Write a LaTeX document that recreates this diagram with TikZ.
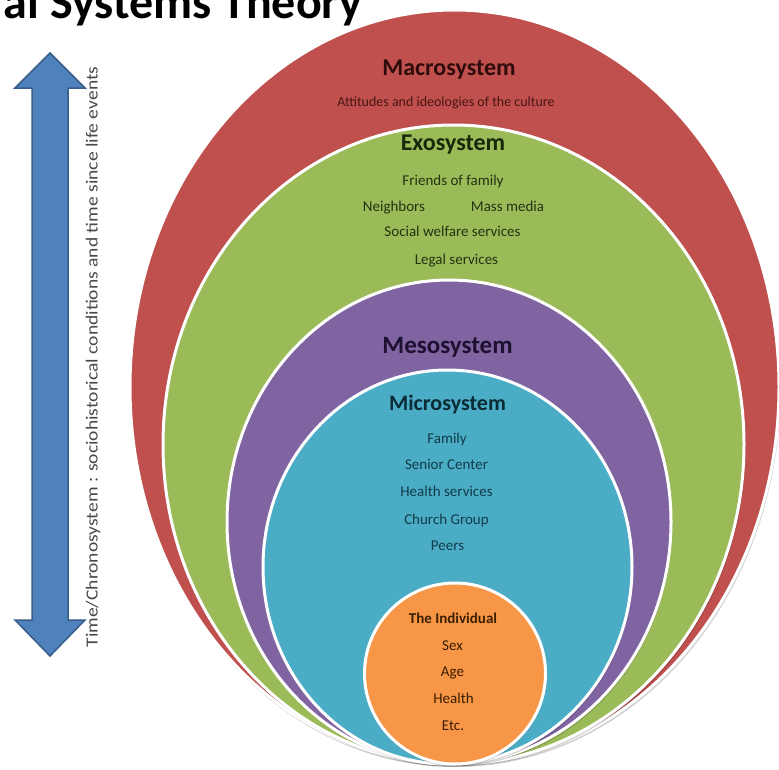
\documentclass[tikz,border=0pt]{standalone}
\usepackage{fontspec}
\setmainfont{Carlito}
\usetikzlibrary{shapes.geometric}
\definecolor{macroC}{HTML}{C0504D}
\definecolor{exoC}{HTML}{9BBB59}
\definecolor{mesoC}{HTML}{8064A2}
\definecolor{microC}{HTML}{4BACC6}
\definecolor{indC}{HTML}{F79646}
\definecolor{arrowC}{HTML}{4F81BD}
\definecolor{arrowD}{HTML}{385D8A}
\definecolor{macroT}{HTML}{2E0C0C}
\definecolor{macroS}{HTML}{4A1414}
\definecolor{exoT}{HTML}{18280A}
\definecolor{exoS}{HTML}{223312}
\definecolor{mesoT}{HTML}{1E1030}
\definecolor{microT}{HTML}{0B2B36}
\definecolor{microS}{HTML}{123C4A}
\definecolor{indT}{HTML}{3A1E00}
\definecolor{chronoT}{HTML}{4A4A4A}
\tikzset{
  ring/.style={draw=white, line width=3pt},
  shade ring/.style={fill=black, opacity=0.18},
  head/.style={anchor=base, font=\bfseries\fontsize{#1}{#1}\selectfont, inner sep=0pt},
  item/.style={anchor=base, font=\fontsize{15}{15}\selectfont, inner sep=0pt},
}
\begin{document}
\begin{tikzpicture}[x=1pt,y=-1pt]
\useasboundingbox (0,0) rectangle (779,769);
\clip (0,0) rectangle (779,769);
\fill[white] (0,0) rectangle (779,769);

% title (cut at the top, as in the reference)
\node[anchor=base east, inner sep=0pt, font=\bfseries\fontsize{48}{48}\selectfont] (title) at (362,18) {al Systems Theory};

% chronosystem arrow
\draw[fill=arrowC, draw=arrowD, line width=1.5pt, line join=miter]
  (50,53) -- (85,88) -- (68,88) -- (68,620) -- (85,620) -- (50,656)
  -- (15,620) -- (32,620) -- (32,88) -- (15,88) -- cycle;
\node[rotate=90, inner sep=0pt, text=chronoT, font=\fontsize{17}{17}\selectfont, xscale=1.15] (chrono) at (93,357)
  {Time/Chronosystem : sociohistorical conditions and time since life events};

% nested systems
\fill[shade ring] (455.5,390) ellipse [x radius=325pt, y radius=377pt];
\draw[ring, fill=macroC] (454.5,387) ellipse [x radius=324.5pt, y radius=377pt];
\fill[shade ring] (454.5,447) ellipse [x radius=291pt, y radius=319.5pt];
\draw[ring, fill=exoC] (453.5,444.5) ellipse [x radius=290.5pt, y radius=319.5pt];
\fill[shade ring] (450,524.5) ellipse [x radius=222pt, y radius=242pt];
\draw[ring, fill=mesoC] (449,522) ellipse [x radius=222pt, y radius=242pt];
\fill[shade ring] (448.5,569.5) ellipse [x radius=184.5pt, y radius=197pt];
\draw[ring, fill=microC] (447.5,567) ellipse [x radius=184.5pt, y radius=197pt];
\fill[shade ring] (455.5,676) circle [radius=90.5pt];
\draw[ring, fill=indC] (455,673.5) circle [radius=90.5pt];

% macrosystem
\node[head=24, text=macroT] (macro) at (449,75) {Macrosystem};
\node[item, text=macroS, font=\fontsize{14}{14}\selectfont] (culture) at (446,106.5) {Attitudes and ideologies of the culture};

% exosystem
\node[head=24, text=exoT] (exo) at (453,150) {Exosystem};
\node[item, text=exoS] (friends) at (453,185) {Friends of family};
\node[item, text=exoS] (neigh) at (394,211.5) {Neighbors};
\node[item, text=exoS] (media) at (507.5,211.5) {Mass media};
\node[item, text=exoS] (social) at (452.5,236.5) {Social welfare services};
\node[item, text=exoS] (legal) at (456.5,264) {Legal services};

% mesosystem
\node[head=25, text=mesoT] (meso) at (447.5,353) {Mesosystem};

% microsystem
\node[head=22, text=microT] (micro) at (447.5,410.5) {Microsystem};
\node[item, text=microS] (family) at (447,443) {Family};
\node[item, text=microS] (senior) at (446.5,469) {Senior Center};
\node[item, text=microS] (healthsv) at (446.5,496.5) {Health services};
\node[item, text=microS] (church) at (446.5,524) {Church Group};
\node[item, text=microS] (peers) at (447.5,550.5) {Peers};

% individual
\node[head=15, text=indT] (indiv) at (453,623) {The Individual};
\node[item, text=indT] (sex) at (452.5,650) {Sex};
\node[item, text=indT] (age) at (452.5,676.5) {Age};
\node[item, text=indT] (health) at (453.5,703) {Health};
\node[item, text=indT] (etc) at (453,730) {Etc.};
\end{tikzpicture}
\end{document}
